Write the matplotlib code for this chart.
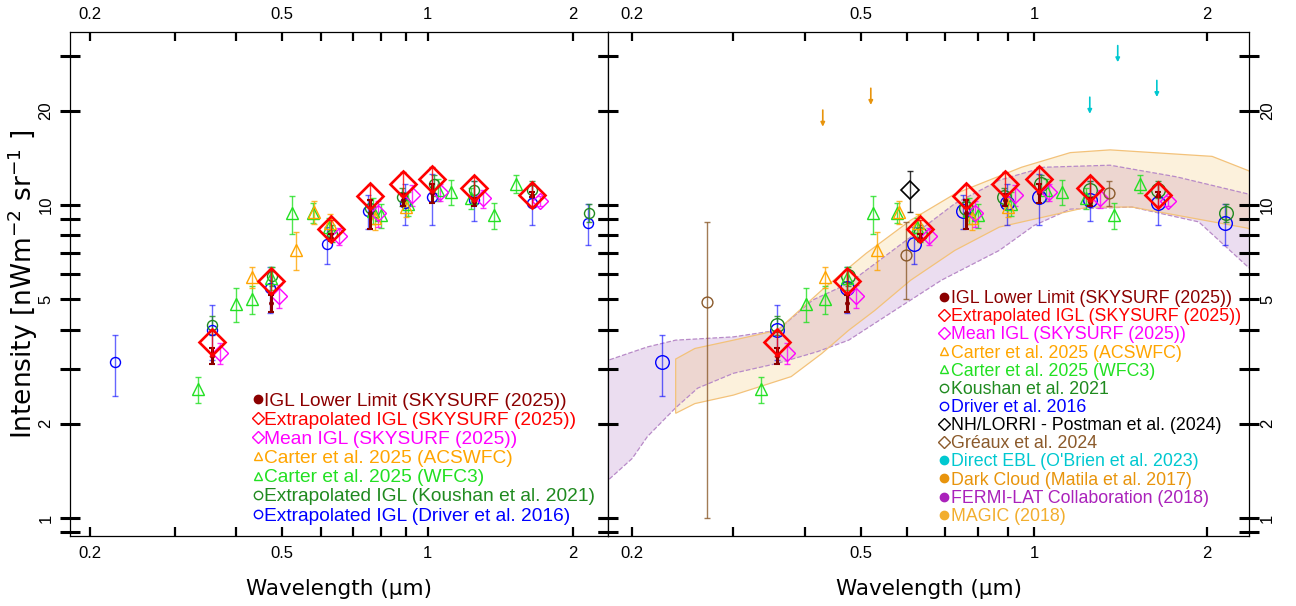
import numpy as np
import matplotlib.pyplot as plt
from matplotlib.lines import Line2D

# wavelengths in micron, intensities in nW m^-2 sr^-1
sky_lam = [0.357, 0.473, 0.632, 0.760, 0.889, 1.02, 1.25, 1.645]
igl_ext = [3.65, 5.72, 8.36, 10.7, 11.7, 12.1, 11.3, 10.8]
igl_ext_err = [0.35, 0.5, 0.6, 0.9, 1.0, 1.1, 1.0, 0.9]
igl_low = [3.3, 4.85, 7.85, 9.4, 10.4, 10.9, 10.2, 10.8]
igl_low_err = [0.2, 0.3, 0.2, 1.0, 0.45, 0.75, 0.3, 0.2]

mean_lam = [0.371, 0.491, 0.656, 0.789, 0.927, 1.062, 1.303, 1.712]
igl_mean = [3.36, 5.12, 7.95, 9.4, 10.75, 11.0, 10.5, 10.3]
igl_mean_err = [0.25, 0.45, 0.5, 0.9, 0.8, 0.7, 0.7, 0.4]

acs_lam = [0.433, 0.533, 0.581, 0.629, 0.779, 0.90]
acs_val = [5.9, 7.2, 9.5, 8.73, 9.1, 9.85]
acs_err = [0.45, 1.0, 0.8, 0.6, 0.8, 0.7]

wfc3_lam = [0.335, 0.401, 0.432, 0.473, 0.524, 0.578, 0.625, 0.77, 0.80, 0.912,
            1.05, 1.12, 1.23, 1.375, 1.526]
wfc3_val = [2.58, 4.84, 5.0, 5.85, 9.4, 9.46, 8.5, 9.6, 9.27, 10.1,
            11.2, 11.0, 10.5, 9.27, 11.7]
wfc3_err = [0.25, 0.6, 0.5, 0.5, 1.3, 0.7, 0.6, 0.9, 0.8, 0.9,
            0.9, 1.0, 0.8, 0.9, 0.8]

koushan_lam = [0.357, 0.475, 0.634, 0.76, 0.886, 1.03, 1.25, 1.645, 2.16]
koushan_val = [4.13, 5.93, 8.1, 9.8, 10.6, 11.7, 11.2, 11.2, 9.45]
koushan_err = [0.3, 0.4, 0.5, 0.6, 0.7, 0.8, 0.7, 0.7, 0.6]

driver_lam = [0.225, 0.357, 0.472, 0.619, 0.752, 0.896, 1.02, 1.25, 1.645, 2.15]
driver_val = [3.15, 4.0, 5.42, 7.5, 9.6, 10.15, 10.6, 10.4, 10.15, 8.75]
driver_err = [0.7, 0.8, 0.9, 1.0, 1.2, 1.5, 2.0, 1.5, 1.5, 1.3]

lorri_lam = [0.608]
lorri_val = [11.16]
lorri_err = [1.65]

greaux_lam = [0.27, 0.599, 1.35]
greaux_val = [4.9, 6.9, 10.9]
greaux_err = [3.9, 1.9, 1.0]

obrien_lam = [1.25, 1.398, 1.635]
obrien_lim = [22.1, 32.3, 25.0]
matila_lam = [0.429, 0.52]
matila_lim = [20.1, 23.6]

magic_up_lam = [0.238, 0.257, 0.30, 0.358, 0.427, 0.51, 0.61, 0.728, 0.951,
                1.156, 1.356, 2.04, 2.353, 2.5]
magic_up = [3.22, 3.48, 3.7, 3.98, 5.34, 7.0, 8.94, 10.85, 13.2,
            14.7, 15.0, 14.3, 12.9, 12.2]
magic_lo_lam = [0.238, 0.257, 0.30, 0.378, 0.427, 0.476, 0.528, 0.61, 0.728,
                0.87, 1.24, 1.48, 2.353, 2.5]
magic_lo = [2.16, 2.32, 2.47, 2.83, 3.35, 3.98, 4.6, 5.75, 7.16,
            8.5, 9.85, 9.85, 8.43, 8.0]

fermi_up_lam = [0.17, 0.1815, 0.2125, 0.238, 0.30, 0.358, 0.412, 0.476, 0.61,
                0.728, 0.87, 1.04, 1.356, 1.77, 2.353, 2.5]
fermi_up = [3.0, 3.19, 3.52, 3.7, 3.79, 3.98, 4.97, 5.62, 7.9,
            10.1, 12.0, 13.2, 13.4, 12.3, 10.85, 10.3]
fermi_lo_lam = [0.17, 0.1815, 0.20, 0.2125, 0.238, 0.26, 0.30, 0.358, 0.42,
                0.476, 0.61, 0.69, 0.87, 1.0, 1.156, 1.48, 1.934, 2.353, 2.5]
fermi_lo = [1.15, 1.32, 1.55, 1.82, 2.25, 2.6, 2.9, 3.12, 3.4,
            3.7, 4.97, 5.75, 7.16, 8.6, 9.7, 9.85, 8.83, 6.35, 5.8]

C_LOW = "#8b0000"
C_EXT = "#ff0000"
C_MEAN = "#ff00ff"
C_ACS = "#ffa500"
C_WFC3 = "#22e022"
C_KOU = "#1f8a1f"
C_DRV = "#0000ff"
C_LORRI = "#000000"
C_GRE = "#8b5a2b"
C_OBR = "#00c8d0"
C_MAT = "#e8940c"
C_FERMI = "#aa22bb"
C_MAGIC = "#f2ae2e"

TICK_FONT = "Liberation Sans"
XLIM = (0.1815, 2.365)
YLIM = (0.876, 35.7)


def points(ax, lam, val, err, color, marker, ms, mew=1.0, z=3, ealpha=0.8):
    eb = ax.errorbar(lam, val, yerr=err, fmt="none", ecolor=color,
                     elinewidth=1.0, capsize=2, capthick=1.0, zorder=z,
                     alpha=ealpha)
    ax.plot(lam, val, ls="none", marker=marker, ms=ms, mfc="none",
            mec=color, mew=mew, zorder=z + 0.1)
    return eb


def draw_igl(ax, circ):
    points(ax, driver_lam, driver_val, driver_err, C_DRV, "o", circ, ealpha=0.6)
    points(ax, koushan_lam, koushan_val, koushan_err, C_KOU, "o", circ)
    points(ax, wfc3_lam, wfc3_val, wfc3_err, C_WFC3, "^", 9)
    points(ax, acs_lam, acs_val, acs_err, C_ACS, "^", 9)
    points(ax, mean_lam, igl_mean, igl_mean_err, C_MEAN, "D", 7.8)
    ax.errorbar(sky_lam, igl_low, yerr=igl_low_err, fmt="o", ms=2.5,
                color=C_LOW, elinewidth=2.2, capsize=2, capthick=1.5, zorder=5)
    ax.errorbar(sky_lam, igl_ext, yerr=igl_ext_err, fmt="none", ecolor=C_EXT,
                elinewidth=1.0, capsize=2, zorder=6, alpha=0.8)
    ax.plot(sky_lam, igl_ext, ls="none", marker="D", ms=13.3, mfc="none",
            mec=C_EXT, mew=1.9, zorder=7)


def style(ax, right_labels):
    ax.set_xscale("log")
    ax.set_yscale("log")
    ax.set_xlim(*XLIM)
    ax.set_ylim(*YLIM)
    xt = [0.2, 0.3, 0.4, 0.5, 0.6, 0.7, 0.8, 0.9, 1, 2]
    ax.set_xticks(xt, ["0.2", "", "", "0.5", "", "", "", "", "1", "2"])
    ax.xaxis.set_minor_locator(plt.NullLocator())
    yt = [0.9, 1, 2, 3, 4, 5, 6, 7, 8, 9, 10, 20, 30]
    ylab = ["", "1", "2", "", "", "5", "", "", "", "", "10", "20", ""]
    ax.set_yticks(yt, ylab)
    ax.yaxis.set_minor_locator(plt.NullLocator())
    ax.tick_params(axis="x", which="both", direction="in", length=6.5,
                   width=1.6, top=True, labeltop=True, pad=7, labelsize=12)
    ax.tick_params(axis="y", direction="inout", length=14, width=2.2,
                   left=True, right=True, labelsize=12, labelrotation=90,
                   labelleft=not right_labels, labelright=right_labels,
                   pad=1 if right_labels else 5)
    for lab in ax.get_xticklabels() + ax.get_yticklabels():
        lab.set_fontfamily(TICK_FONT)
    for lab in ax.get_yticklabels():
        lab.set_verticalalignment("center")
    for s in ax.spines.values():
        s.set_linewidth(0.9)
    ax.set_xlabel("Wavelength (μm)", fontsize=15.5, labelpad=13)


def handle(marker, color, filled=False):
    return Line2D([], [], ls="none", marker=marker, ms=6,
                  mfc=color if filled else "none", mec=color, mew=1.0)


fig = plt.figure(figsize=(12.96, 6.06), dpi=100)
ax1 = fig.add_axes([70 / 1296, 70 / 606, 538 / 1296, 504 / 606])
ax2 = fig.add_axes([608 / 1296, 70 / 606, 641 / 1296, 504 / 606])

# left panel: IGL measurements only
draw_igl(ax1, 7.2)
style(ax1, right_labels=False)
ax1.set_ylabel(r"Intensity [nWm$^{-2}$ sr$^{-1}$ ]", fontsize=19)
ax1.yaxis.set_label_coords(-0.056, 0.5)

left_items = [
    (handle("o", C_LOW, True), "IGL Lower Limit (SKYSURF (2025))", C_LOW),
    (handle("D", C_EXT), "Extrapolated IGL (SKYSURF (2025))", C_EXT),
    (handle("D", C_MEAN), "Mean IGL (SKYSURF (2025))", C_MEAN),
    (handle("^", C_ACS), "Carter et al. 2025 (ACSWFC)", C_ACS),
    (handle("^", C_WFC3), "Carter et al. 2025 (WFC3)", C_WFC3),
    (handle("o", C_KOU), "Extrapolated IGL (Koushan et al. 2021)", C_KOU),
    (handle("o", C_DRV), "Extrapolated IGL (Driver et al. 2016)", C_DRV),
]
ax1.legend([h for h, _, _ in left_items], [t for _, t, _ in left_items],
           labelcolor=[c for _, _, c in left_items], loc="upper left",
           bbox_to_anchor=(0.34, 0.285), frameon=False, borderpad=0,
           borderaxespad=0, handlelength=0.5, handletextpad=0.1,
           labelspacing=0.09, prop={"family": TICK_FONT, "size": 13.8})

# right panel: IGL plus EBL constraints
ax2.fill(np.r_[fermi_up_lam, fermi_lo_lam[::-1]], np.r_[fermi_up, fermi_lo[::-1]],
         color="#9b59b6", alpha=0.2, lw=0, zorder=1)
ax2.plot(fermi_up_lam, fermi_up, ls="--", color="#b88ac8", lw=0.9, zorder=1.5)
ax2.plot(fermi_lo_lam, fermi_lo, ls="--", color="#b88ac8", lw=0.9, zorder=1.5)
ax2.fill(np.r_[magic_up_lam, magic_lo_lam[::-1]], np.r_[magic_up, magic_lo[::-1]],
         facecolor="#f5c060", alpha=0.22, lw=0, zorder=1.2)
ax2.fill(np.r_[magic_up_lam, magic_lo_lam[::-1]], np.r_[magic_up, magic_lo[::-1]],
         facecolor="none", edgecolor="#f3c27a", lw=0.9, zorder=1.6)

draw_igl(ax2, 9.8)
points(ax2, lorri_lam, lorri_val, lorri_err, C_LORRI, "D", 9.5, mew=1.2)
points(ax2, greaux_lam, greaux_val, greaux_err, C_GRE, "o", 7.8)
for lam, v in zip(obrien_lam, obrien_lim):
    ax2.annotate("", xy=(lam, v * 0.885), xytext=(lam, v),
                 arrowprops=dict(arrowstyle="-|>", color=C_OBR, lw=1.2,
                                 mutation_scale=6, shrinkA=0, shrinkB=0))
for lam, v in zip(matila_lam, matila_lim):
    ax2.annotate("", xy=(lam, v * 0.885), xytext=(lam, v),
                 arrowprops=dict(arrowstyle="-|>", color=C_MAT, lw=1.2,
                                 mutation_scale=6, shrinkA=0, shrinkB=0))
style(ax2, right_labels=True)

right_items = [
    (handle("o", C_LOW, True), "IGL Lower Limit (SKYSURF (2025))", C_LOW),
    (handle("D", C_EXT), "Extrapolated IGL (SKYSURF (2025))", C_EXT),
    (handle("D", C_MEAN), "Mean IGL (SKYSURF (2025))", C_MEAN),
    (handle("^", C_ACS), "Carter et al. 2025 (ACSWFC)", C_ACS),
    (handle("^", C_WFC3), "Carter et al. 2025 (WFC3)", C_WFC3),
    (handle("o", C_KOU), "Koushan et al. 2021", C_KOU),
    (handle("o", C_DRV), "Driver et al. 2016", C_DRV),
    (handle("D", C_LORRI), "NH/LORRI - Postman et al. (2024)", C_LORRI),
    (handle("D", C_GRE), "Gréaux et al. 2024", C_GRE),
    (handle("o", C_OBR, True), "Direct EBL (O'Brien et al. 2023)", C_OBR),
    (handle("o", C_MAT, True), "Dark Cloud (Matila et al. 2017)", C_MAT),
    (handle("o", C_FERMI, True), "FERMI-LAT Collaboration (2018)", C_FERMI),
    (handle("o", C_MAGIC, True), "MAGIC (2018)", C_MAGIC),
]
ax2.legend([h for h, _, _ in right_items], [t for _, t, _ in right_items],
           labelcolor=[c for _, _, c in right_items], loc="upper left",
           bbox_to_anchor=(0.518, 0.488), frameon=False, borderpad=0,
           borderaxespad=0, handlelength=0.5, handletextpad=0.1,
           labelspacing=0.065, prop={"family": TICK_FONT, "size": 12.8})

fig.savefig("out.png", dpi=100)
